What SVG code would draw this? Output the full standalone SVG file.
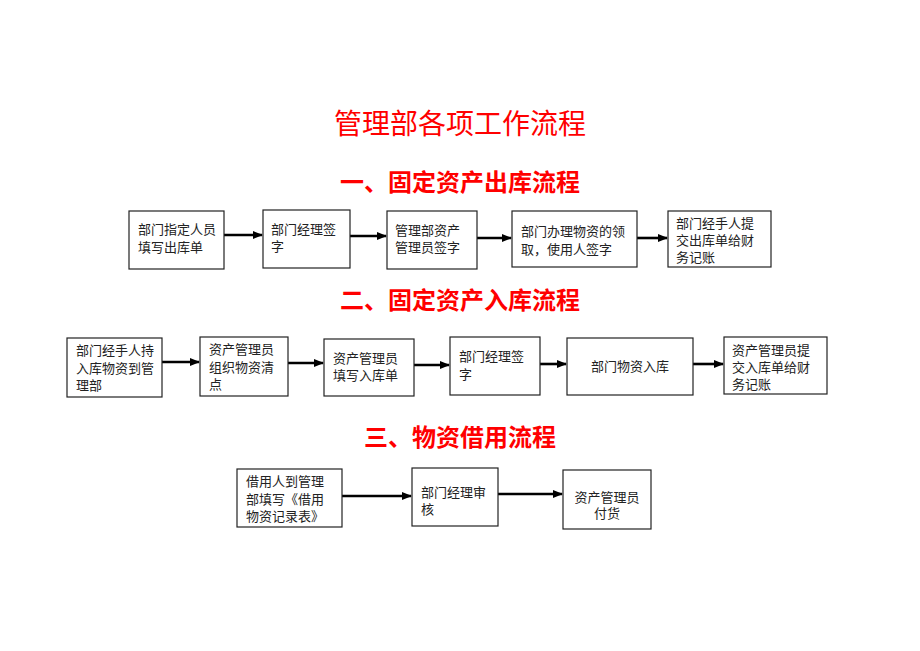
<svg xmlns="http://www.w3.org/2000/svg" width="920" height="651" viewBox="0 0 920 651">
<style>
.t{font-family:"Liberation Serif","Noto Sans CJK SC",serif;fill:#ff0000}
.h1{font-size:28px}
.h2{font-size:24px;font-weight:bold}
.box{fill:#fff;stroke:#222;stroke-width:1.2}
.sh{fill:none;stroke:#999;stroke-width:1}
.lb{font-family:"Liberation Serif","Noto Sans CJK SC",serif;font-size:13px;fill:#222}
.ar{stroke:#000;stroke-width:2.6;fill:none;marker-end:url(#ah)}
</style>
<defs>
<marker id="ah" markerUnits="userSpaceOnUse" viewBox="0 0 10 8" refX="9" refY="4" markerWidth="10" markerHeight="8" orient="auto">
<path d="M0,0 L10,4 L0,8 Z" fill="#000"/>
</marker>
</defs>
<rect width="920" height="651" fill="#fff"/>
<g id="titles">
<text class="t h1" x="460" y="134" text-anchor="middle">管理部各项工作流程</text>
<text class="t h2" x="460" y="191" text-anchor="middle">一、固定资产出库流程</text>
<text class="t h2" x="460" y="309" text-anchor="middle">二、固定资产入库流程</text>
<text class="t h2" x="460" y="446" text-anchor="middle">三、物资借用流程</text>
</g>
<g id="connectors">
<line class="ar" x1="224" y1="235" x2="262" y2="235"/>
<line class="ar" x1="350" y1="236" x2="386" y2="236"/>
<line class="ar" x1="477" y1="238" x2="511" y2="238"/>
<line class="ar" x1="637" y1="238" x2="667" y2="238"/>
<line class="ar" x1="162" y1="362" x2="199" y2="362"/>
<line class="ar" x1="288" y1="363" x2="323" y2="363"/>
<line class="ar" x1="414" y1="365" x2="449" y2="365"/>
<line class="ar" x1="540" y1="364" x2="566" y2="364"/>
<line class="ar" x1="693" y1="364" x2="723" y2="364"/>
<line class="ar" x1="342" y1="496" x2="411" y2="496"/>
<line class="ar" x1="498" y1="494" x2="562" y2="494"/>
</g>
<g id="n1"><rect class="box" x="129" y="211" width="95" height="58"/>
<text class="lb"><tspan x="138" y="234">部门指定人员</tspan><tspan x="138" y="252">填写出库单</tspan></text></g>
<g id="n2"><rect class="box" x="263" y="210" width="87" height="58"/>
<text class="lb"><tspan x="271" y="234">部门经理签</tspan><tspan x="271" y="251">字</tspan></text></g>
<g id="n3"><rect class="box" x="387" y="211" width="90" height="58"/>
<text class="lb"><tspan x="395" y="235">管理部资产</tspan><tspan x="395" y="252">管理员签字</tspan></text></g>
<g id="n4"><rect class="box" x="512" y="211" width="125" height="56"/>
<text class="lb"><tspan x="521" y="236">部门办理物资的领</tspan><tspan x="521" y="254">取，使用人签字</tspan></text></g>
<g id="n5"><rect class="box" x="668" y="211" width="103" height="56"/>
<text class="lb"><tspan x="676" y="228">部门经手人提</tspan><tspan x="676" y="245">交出库单给财</tspan><tspan x="676" y="262">务记账</tspan></text></g>
<g id="m1"><rect class="box" x="67" y="338" width="95" height="59"/>
<text class="lb"><tspan x="76" y="355">部门经手人持</tspan><tspan x="76" y="373">入库物资到管</tspan><tspan x="76" y="390">理部</tspan></text></g>
<g id="m2"><rect class="box" x="200" y="337" width="88" height="59"/>
<text class="lb"><tspan x="209" y="354">资产管理员</tspan><tspan x="209" y="372">组织物资清</tspan><tspan x="209" y="389">点</tspan></text></g>
<g id="m3"><rect class="box" x="324" y="339" width="90" height="57"/>
<text class="lb"><tspan x="333" y="363">资产管理员</tspan><tspan x="333" y="380">填写入库单</tspan></text></g>
<g id="m4"><rect class="box" x="450" y="337" width="90" height="58"/>
<text class="lb"><tspan x="459" y="361">部门经理签</tspan><tspan x="459" y="379">字</tspan></text></g>
<g id="m5"><rect class="box" x="567" y="338" width="126" height="57"/>
<text class="lb" x="630" y="371" text-anchor="middle">部门物资入库</text></g>
<g id="m6"><rect class="box" x="724" y="337" width="103" height="57"/>
<text class="lb"><tspan x="732" y="355">资产管理员提</tspan><tspan x="732" y="372">交入库单给财</tspan><tspan x="732" y="389">务记账</tspan></text></g>
<g id="k1"><rect class="box" x="237" y="469" width="105" height="58"/>
<text class="lb"><tspan x="246" y="486">借用人到管理</tspan><tspan x="246" y="504">部填写《借用</tspan><tspan x="246" y="521">物资记录表》</tspan></text></g>
<g id="k2"><rect class="box" x="412" y="468" width="86" height="58"/>
<text class="lb"><tspan x="421" y="497">部门经理审</tspan><tspan x="421" y="514">核</tspan></text></g>
<g id="k3"><rect class="box" x="563" y="470" width="88" height="59"/>
<text class="lb" text-anchor="middle"><tspan x="607" y="502">资产管理员</tspan><tspan x="607" y="518">付货</tspan></text></g>
</svg>
